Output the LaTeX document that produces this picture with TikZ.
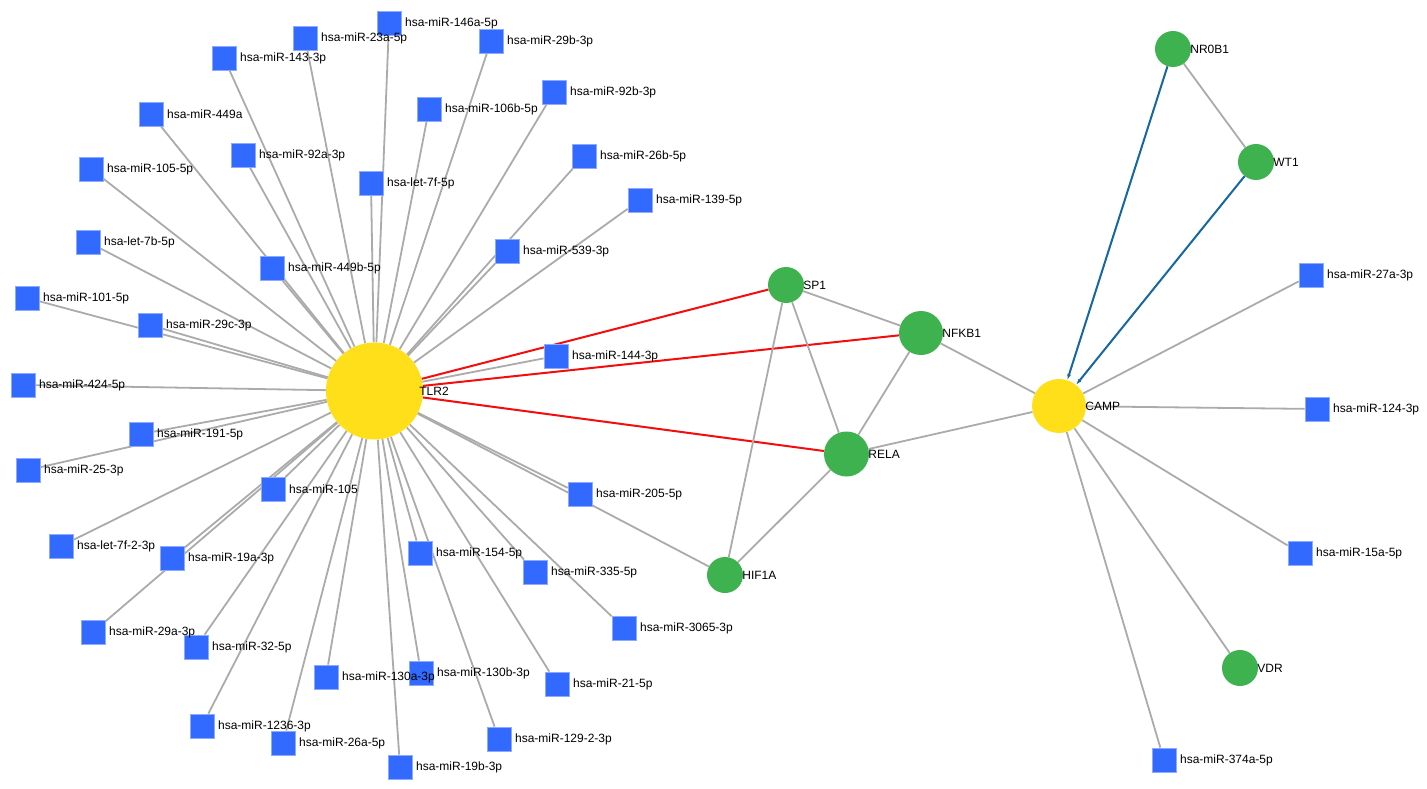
\documentclass[tikz,border=0pt]{standalone}
\usepackage{fontspec}
\setmainfont{Liberation Sans}
\usetikzlibrary{backgrounds,arrows.meta}
\definecolor{mirblue}{RGB}{50,105,255}
\definecolor{mirborder}{RGB}{140,170,255}
\definecolor{hubyellow}{RGB}{255,222,26}
\definecolor{genegreen}{RGB}{61,178,78}
\definecolor{edgegray}{RGB}{171,171,171}
\definecolor{edgered}{RGB}{245,12,12}
\definecolor{edgeblue}{RGB}{22,102,160}
\tikzset{
  lab/.style={inner sep=0pt, font=\fontsize{12}{14}\selectfont, text=black},
  mir/.style={rectangle, draw=mirborder, line width=0.8pt, fill=mirblue, minimum size=24pt, inner sep=0pt,
              label={[lab, label distance=3.5pt]east:#1}},
  gene/.style={circle, fill=genegreen, inner sep=0pt, minimum size=36pt,
              label={[lab, label distance=-1pt]east:#1}},
  hub/.style={circle, fill=hubyellow, inner sep=0pt},
  gedge/.style={draw=edgegray, line width=1.8pt},
  redge/.style={draw=edgered, line width=2pt},
  bedge/.style={draw=edgeblue, line width=2pt, -{Latex[length=6pt,width=4pt]}}
}
\begin{document}
\begin{tikzpicture}[x=1pt,y=-1pt]
\useasboundingbox (0,0) rectangle (1427,789);
% hubs
\node[hub, minimum size=97pt, label={[lab, label distance=-4pt]east:TLR2}] (tlr2) at (374.5,391) {};
\node[hub, minimum size=54pt, label={[lab, label distance=-1pt]east:CAMP}] (camp) at (1059,406) {};
% genes
\node[gene=SP1] (sp1) at (786,285) {};
\node[gene=NFKB1, minimum size=44pt] (nfkb1) at (921,333) {};
\node[gene=RELA, minimum size=45pt] (rela) at (846.5,454) {};
\node[gene=HIF1A] (hif1a) at (725,575) {};
\node[gene=NR0B1] (nr0b1) at (1173,49) {};
\node[gene=WT1] (wt1) at (1256,162) {};
\node[gene=VDR] (vdr) at (1240,668) {};
% miRNAs around TLR2
\node[mir=hsa-miR-146a-5p] (m146a) at (389,23) {};
\node[mir=hsa-miR-23a-5p] (m23a) at (305,38) {};
\node[mir=hsa-miR-29b-3p] (m29b) at (491,41) {};
\node[mir=hsa-miR-143-3p] (m143) at (224,58) {};
\node[mir=hsa-miR-92b-3p] (m92b) at (554,92) {};
\node[mir=hsa-miR-106b-5p] (m106b) at (429,109) {};
\node[mir=hsa-miR-449a] (m449a) at (151,114) {};
\node[mir=hsa-miR-92a-3p] (m92a) at (243,155) {};
\node[mir=hsa-miR-26b-5p] (m26b) at (584,156) {};
\node[mir=hsa-miR-105-5p] (m1055p) at (91,169) {};
\node[mir=hsa-let-7f-5p] (l7f) at (371,183) {};
\node[mir=hsa-miR-139-5p] (m139) at (640,200) {};
\node[mir=hsa-let-7b-5p] (l7b) at (88,242) {};
\node[mir=hsa-miR-539-3p] (m539) at (507,251) {};
\node[mir=hsa-miR-449b-5p] (m449b) at (272,268) {};
\node[mir=hsa-miR-101-5p] (m101) at (27,298) {};
\node[mir=hsa-miR-29c-3p] (m29c) at (150,325) {};
\node[mir=hsa-miR-144-3p] (m144) at (556,356) {};
\node[mir=hsa-miR-424-5p] (m424) at (23,385) {};
\node[mir=hsa-miR-191-5p] (m191) at (141,434) {};
\node[mir=hsa-miR-25-3p] (m25) at (28,470) {};
\node[mir=hsa-miR-105] (m105) at (273,489) {};
\node[mir=hsa-miR-205-5p] (m205) at (580,494) {};
\node[mir=hsa-let-7f-2-3p] (l7f2) at (61,546) {};
\node[mir=hsa-miR-19a-3p] (m19a) at (172,558) {};
\node[mir=hsa-miR-154-5p] (m154) at (420,553) {};
\node[mir=hsa-miR-335-5p] (m335) at (535,572) {};
\node[mir=hsa-miR-32-5p] (m32) at (196,647) {};
\node[mir=hsa-miR-29a-3p] (m29a) at (93,632) {};
\node[mir=hsa-miR-3065-3p] (m3065) at (624,628) {};
\node[mir=hsa-miR-130b-3p] (m130b) at (421,673) {};
\node[mir=hsa-miR-130a-3p] (m130a) at (326,677) {};
\node[mir=hsa-miR-21-5p] (m21) at (557,684) {};
\node[mir=hsa-miR-26a-5p] (m26a) at (283,743) {};
\node[mir=hsa-miR-1236-3p] (m1236) at (202,726) {};
\node[mir=hsa-miR-129-2-3p] (m1292) at (499,739) {};
\node[mir=hsa-miR-19b-3p] (m19b) at (400,767) {};
% miRNAs around CAMP
\node[mir=hsa-miR-27a-3p] (m27a) at (1311,275) {};
\node[mir=hsa-miR-124-3p] (m124) at (1317,409) {};
\node[mir=hsa-miR-15a-5p] (m15a) at (1300,553) {};
\node[mir=hsa-miR-374a-5p] (m374a) at (1164,760) {};
% edges
\begin{pgfonlayer}{background}
\foreach \m in {m146a,m23a,m29b,m143,m92b,m106b,m449a,m92a,m26b,m1055p,l7f,m139,l7b,m539,m449b,m101,m29c,m144,m424,m191,m25,m105,m205,l7f2,m19a,m154,m335,m29a,m3065,m32,m130a,m130b,m21,m1236,m26a,m1292,m19b}
  \draw[gedge] (tlr2) -- (\m);
\draw[gedge] (tlr2) -- (hif1a);
\draw[redge] (tlr2) -- (sp1);
\draw[redge] (tlr2) -- (nfkb1);
\draw[redge] (tlr2) -- (rela);
\draw[gedge] (sp1) -- (nfkb1);
\draw[gedge] (sp1) -- (rela);
\draw[gedge] (sp1) -- (hif1a);
\draw[gedge] (nfkb1) -- (rela);
\draw[gedge] (rela) -- (hif1a);
\draw[gedge] (nfkb1) -- (camp);
\draw[gedge] (rela) -- (camp);
\draw[gedge] (nr0b1) -- (wt1);
\foreach \m in {m27a,m124,m15a,vdr,m374a}
  \draw[gedge] (camp) -- (\m);
\end{pgfonlayer}
\draw[bedge] (nr0b1) -- (camp);
\draw[bedge] (wt1) -- (camp);
\end{tikzpicture}
\end{document}
